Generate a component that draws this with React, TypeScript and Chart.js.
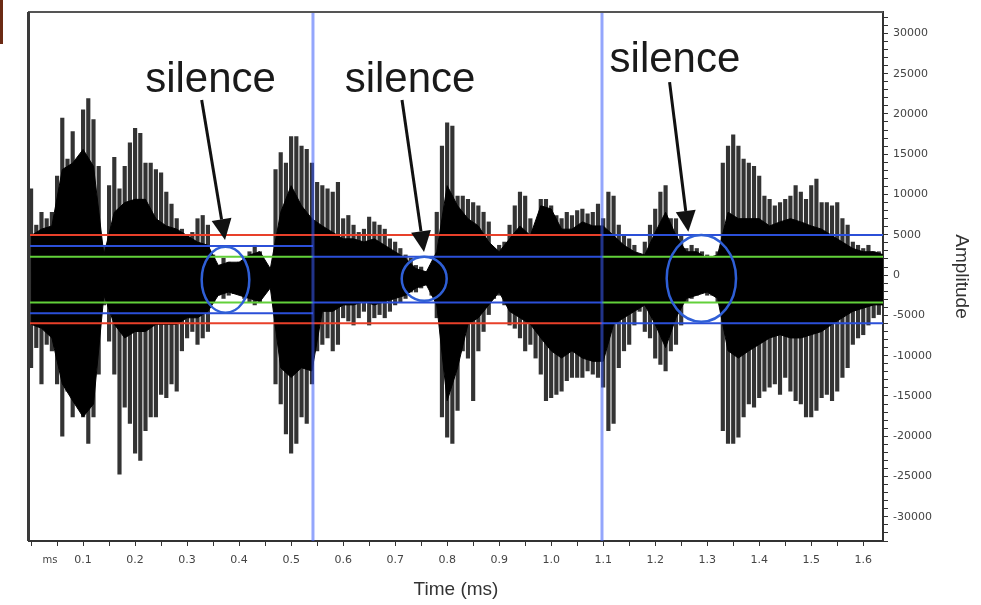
import React, { useEffect, useRef } from 'react';
import { Chart, registerables } from 'chart.js';

Chart.register(...registerables);

// ---------------- data ----------------
// Spike envelope, one value every 0.01 ms from 0.00 to 1.63 ms
const spikeStepMs = 0.01;
const spikeTop = [
  10700, 6200, 7800, 7000, 7800, 12300, 19500, 14400, 17800, 13900,
  20500, 21900, 19300, 13500, 3700, 11100, 14600, 10700, 13500, 16400,
  18200, 17600, 13900, 13900, 13100, 12700, 10300, 8800, 7000, 5700,
  4900, 5300, 7000, 7400, 6200, 2500, 1200, 2100, 1600, 1000,
  1600, 1200, 2900, 3700, 2900, 1200, 800, 13100, 15200, 13900,
  17200, 17200, 16000, 15600, 13900, 11500, 11100, 10700, 10300, 11500,
  7000, 7400, 6200, 5300, 5700, 7200, 6600, 6200, 5700, 4500,
  4100, 3300, 2500, 2100, 1200, 1000, 400, 1200, 7800, 16000,
  18900, 18500, 9800, 9800, 9400, 9000, 8600, 7800, 6600, 3300,
  3700, 4100, 6200, 8600, 10300, 9800, 7000, 5300, 9400, 9400,
  8600, 7400, 7000, 7800, 7400, 8000, 8200, 7600, 7800, 8800,
  7000, 10300, 9800, 6200, 4900, 4500, 3700, 2500, 4100, 6200,
  8200, 10300, 11100, 7000, 7000, 4900, 3300, 3700, 3300, 2900,
  2500, 2100, 2900, 13900, 16000, 17400, 16000, 14400, 13900, 13500,
  12300, 9800, 9400, 8600, 9000, 9400, 9800, 11100, 10300, 9400,
  11100, 11900, 9000, 9000, 8600, 9000, 7000, 6200, 4100, 3700,
  3300, 3700, 2900, 2900,
];
const spikeBottom = [
  -11500, -9000, -13500, -8600, -9400, -13500, -20000, -14400, -17600, -15600,
  -17600, -20900, -17600, -12300, -3700, -8200, -12300, -24700, -16400, -18400,
  -22100, -23000, -19300, -17600, -17600, -14800, -15200, -13500, -14400, -9400,
  -7800, -7000, -8600, -7800, -7000, -3300, -2500, -2900, -2500, -2300,
  -2100, -2900, -3300, -3700, -3300, -1600, -1400, -13500, -16000, -19700,
  -22100, -20900, -17600, -18400, -13500, -9400, -8600, -7800, -9400, -8600,
  -5300, -5700, -6200, -5300, -4500, -6200, -5300, -4900, -5300, -4500,
  -3700, -3300, -2900, -2100, -2100, -1600, -1200, -2500, -5300, -17600,
  -20100, -20900, -16800, -9400, -10300, -15600, -9400, -7000, -4900, -2900,
  -2500, -3700, -6200, -6600, -7800, -9400, -8600, -10300, -12300, -15600,
  -15200, -14800, -14400, -13100, -12700, -12700, -12700, -11900, -12300, -12700,
  -13900, -19300, -18400, -11500, -9400, -8600, -6200, -4500, -7000, -7800,
  -10300, -11100, -11900, -9400, -8600, -6200, -3300, -2900, -2500, -2100,
  -2500, -2500, -3300, -19300, -20900, -20900, -20100, -17600, -16000, -16400,
  -15200, -14400, -13900, -13500, -14800, -12700, -14400, -15600, -16000, -17600,
  -17600, -16800, -15200, -14800, -15600, -14400, -12700, -11500, -8600, -7800,
  -7400, -6200, -5300, -4900,
];

// Dense (solid black) core envelope, one value every 0.02 ms from 0.00 to 1.64 ms
const coreStepMs = 0.02;
const coreTop = [
  4900, 5700, 6100, 13100, 13900, 15600, 13500, 2500, 7800, 9000,
  9400, 9400, 7000, 6100, 5700, 4900, 4100, 3700, 1200, 1600,
  1600, 2500, 2900, 800, 7800, 11100, 8600, 7000, 6100, 5300,
  4500, 4500, 4100, 4500, 3700, 2900, 2100, 800, 400, 2900,
  11100, 8600, 7000, 6100, 4100, 2900, 4500, 6100, 4900, 8600,
  8200, 5700, 5700, 6600, 6100, 6100, 4900, 3700, 2900, 2500,
  5300, 7800, 4900, 2900, 2900, 2100, 2500, 7800, 7000, 7000,
  7000, 6100, 6600, 7000, 6600, 6100, 5700, 4900, 4100, 3300,
  2900, 2900, 2500,
];
const coreBottom = [
  -6100, -6600, -7800, -13500, -15600, -17600, -16000, -2500, -6100, -7800,
  -7000, -7000, -6100, -6100, -6100, -5300, -5300, -4500, -2500, -2100,
  -2500, -2900, -3300, -1600, -11500, -12700, -11500, -11900, -4500, -4500,
  -3700, -3700, -3300, -3700, -3300, -2900, -2500, -1600, -1200, -3700,
  -15600, -11500, -6100, -5300, -3700, -2100, -4500, -5300, -6100, -7800,
  -9400, -10300, -9400, -10300, -10700, -10700, -6100, -5300, -4500, -3700,
  -6100, -9000, -5300, -2900, -2500, -2100, -2900, -9400, -10300, -9400,
  -8600, -7800, -7400, -7800, -7800, -7400, -7000, -6100, -5300, -4500,
  -4100, -3700, -3700,
];

// Axes
const timeMin = -0.004;
const timeMax = 1.638;
const amplitudeMin = -33000;
const amplitudeMax = 32650;
const xTickStep = 0.05; // tick marks
const xTickCount = 33; // 0 .. 1.6
const xTickLabels = ['0.1', '0.2', '0.3', '0.4', '0.5', '0.6', '0.7', '0.8', '0.9', '1.0', '1.1', '1.2', '1.3', '1.4', '1.5', '1.6'];
const yMinorStep = 1000;
const yTickLabels = ['30000', '25000', '20000', '15000', '10000', '5000', '0', '-5000', '-10000', '-15000', '-20000', '-25000', '-30000'];
const xAxisTitle = 'Time (ms)';
const yAxisTitle = 'Amplitude';
const xUnitLabel = 'ms';
const xUnitLabelAt = 0.0365;

// Segment boundaries (vertical markers) and threshold levels
const segmentEdges = [-0.004, 0.542, 1.0977, 1.638];
const redLevels = [4960, -5990]; // segments 1 and 2
const blueLevelsSeg1 = [3600, -4750];
const blueLevelsSeg2 = [2270, -3390];
const blueLevelsSeg3 = [4960, -5990];
const greenLevels = [2270, -3390]; // segments 1 and 3

// "silence" annotations
const silenceText = 'silence';
const silenceTextX = [0.345, 0.7286, 1.238];
const silenceTextY = [22710, 22710, 25190];
const arrowFromX = [0.328, 0.7132, 1.2277];
const arrowFromY = [21720, 21720, 23950];
const arrowToX = [0.3729, 0.7555, 1.2637];
const arrowToY = [4340, 2850, 5370];
const ellipseX = [[0.328, 0.4196], [0.7126, 0.7991], [1.2221, 1.3554]];
const ellipseY = [[3510, -4680], [2270, -3190], [4960, -5800]];

// ---------------- styles ----------------
const RED = '#e8402a';
const BLUE = '#2b4fd8';
const GREEN = '#62d03a';
const MARKER = 'rgba(60, 92, 250, 0.55)';
const ELLIPSE = '#2f5fd6';
const TICK_FONT = { family: '"DejaVu Sans", sans-serif', size: 11 };
const TITLE_FONT = { family: '"Liberation Sans", Arial, sans-serif', size: 19 };

const xTickValues = Array.from({ length: xTickCount }, (_, i) => Math.round(i * xTickStep * 100) / 100);
const yTickValues: number[] = [];
for (let v = Math.ceil(amplitudeMin / yMinorStep) * yMinorStep; v <= amplitudeMax; v += yMinorStep) yTickValues.push(v);

const hLine = (from: number, to: number, y: number, color: string, order: number) => ({
  type: 'line' as const,
  data: [{ x: from, y }, { x: to, y }],
  borderColor: color,
  borderWidth: 2,
  pointRadius: 0,
  fill: false,
  order,
});

const annotationPlugin = {
  id: 'silenceAnnotations',
  afterDatasetsDraw(chart: any) {
    const { ctx } = chart;
    const xs = chart.scales.x;
    const ys = chart.scales.y;
    ctx.save();
    ctx.strokeStyle = ELLIPSE;
    ctx.lineWidth = 2.5;
    ellipseX.forEach((ex, i) => {
      const l = xs.getPixelForValue(ex[0]);
      const r = xs.getPixelForValue(ex[1]);
      const t = ys.getPixelForValue(ellipseY[i][0]);
      const b = ys.getPixelForValue(ellipseY[i][1]);
      ctx.beginPath();
      ctx.ellipse((l + r) / 2, (t + b) / 2, (r - l) / 2, (b - t) / 2, 0, 0, Math.PI * 2);
      ctx.stroke();
    });
    ctx.strokeStyle = '#111';
    ctx.fillStyle = '#111';
    arrowFromX.forEach((fx, i) => {
      const x0 = xs.getPixelForValue(fx);
      const y0 = ys.getPixelForValue(arrowFromY[i]);
      const x1 = xs.getPixelForValue(arrowToX[i]);
      const y1 = ys.getPixelForValue(arrowToY[i]);
      const ang = Math.atan2(y1 - y0, x1 - x0);
      const headLen = 21;
      const headHalf = 10;
      const bx = x1 - Math.cos(ang) * headLen;
      const by = y1 - Math.sin(ang) * headLen;
      ctx.lineWidth = 3;
      ctx.beginPath();
      ctx.moveTo(x0, y0);
      ctx.lineTo(bx, by);
      ctx.stroke();
      ctx.beginPath();
      ctx.moveTo(x1, y1);
      ctx.lineTo(bx + Math.sin(ang) * headHalf, by - Math.cos(ang) * headHalf);
      ctx.lineTo(bx - Math.sin(ang) * headHalf, by + Math.cos(ang) * headHalf);
      ctx.closePath();
      ctx.fill();
    });
    ctx.font = '42px "Liberation Sans", Arial, sans-serif';
    ctx.textAlign = 'center';
    ctx.textBaseline = 'alphabetic';
    ctx.fillStyle = '#1a1a1a';
    silenceTextX.forEach((tx, i) => {
      ctx.fillText(silenceText, xs.getPixelForValue(tx), ys.getPixelForValue(silenceTextY[i]));
    });
    ctx.restore();
  },
  afterDraw(chart: any) {
    const { ctx, chartArea } = chart;
    const xs = chart.scales.x;
    ctx.save();
    ctx.strokeStyle = '#555';
    ctx.lineWidth = 2;
    ctx.beginPath();
    ctx.moveTo(chartArea.left - 1, chartArea.top);
    ctx.lineTo(chartArea.right, chartArea.top);
    ctx.stroke();
    ctx.strokeStyle = '#3a3a3a';
    ctx.lineWidth = 3;
    ctx.beginPath();
    ctx.moveTo(chartArea.left - 0.5, chartArea.top);
    ctx.lineTo(chartArea.left - 0.5, chartArea.bottom);
    ctx.stroke();
    ctx.font = '10px "DejaVu Sans", sans-serif';
    ctx.fillStyle = '#444';
    ctx.textAlign = 'center';
    ctx.textBaseline = 'middle';
    ctx.fillText(xUnitLabel, xs.getPixelForValue(xUnitLabelAt), chartArea.bottom + 19.5);
    ctx.fillStyle = '#6b2a14';
    ctx.fillRect(0, 0, 3, 44);
    ctx.restore();
  },
};

export default function App() {
  const canvasRef = useRef<HTMLCanvasElement | null>(null);

  useEffect(() => {
    const canvas = canvasRef.current;
    if (!canvas) return;

    const spikes = spikeTop.map((t, i) => ({ x: i * spikeStepMs, y: [spikeBottom[i], t] }));
    const coreUp = coreTop.map((v, i) => ({ x: i * coreStepMs, y: v }));
    const coreDown = coreBottom.map((v, i) => ({ x: i * coreStepMs, y: v }));

    const datasets: any[] = [
      {
        type: 'bar',
        data: spikes,
        backgroundColor: '#333333',
        barThickness: 3.5,
        borderWidth: 0,
        order: 6,
      },
      {
        type: 'line',
        data: coreUp,
        borderColor: '#000',
        borderWidth: 1,
        pointRadius: 0,
        fill: false,
        order: 5,
      },
      {
        type: 'line',
        data: coreDown,
        borderColor: '#000',
        borderWidth: 1,
        backgroundColor: '#000',
        pointRadius: 0,
        fill: '-1',
        order: 5,
      },
      hLine(segmentEdges[0], segmentEdges[2], redLevels[0], RED, 3),
      hLine(segmentEdges[0], segmentEdges[2], redLevels[1], RED, 3),
      hLine(segmentEdges[0], segmentEdges[1], greenLevels[0], GREEN, 3),
      hLine(segmentEdges[0], segmentEdges[1], greenLevels[1], GREEN, 3),
      hLine(segmentEdges[2], segmentEdges[3], greenLevels[0], GREEN, 3),
      hLine(segmentEdges[2], segmentEdges[3], greenLevels[1], GREEN, 3),
      hLine(segmentEdges[0], segmentEdges[1], blueLevelsSeg1[0], BLUE, 2),
      hLine(segmentEdges[0], segmentEdges[1], blueLevelsSeg1[1], BLUE, 2),
      hLine(segmentEdges[1], segmentEdges[2], blueLevelsSeg2[0], BLUE, 2),
      hLine(segmentEdges[1], segmentEdges[2], blueLevelsSeg2[1], BLUE, 2),
      hLine(segmentEdges[2], segmentEdges[3], blueLevelsSeg3[0], BLUE, 2),
      hLine(segmentEdges[2], segmentEdges[3], blueLevelsSeg3[1], BLUE, 2),
      ...[segmentEdges[1], segmentEdges[2]].map((e) => ({
        type: 'line',
        data: [{ x: e, y: amplitudeMin }, { x: e, y: amplitudeMax }],
        borderColor: MARKER,
        borderWidth: 3,
        pointRadius: 0,
        fill: false,
        order: 1,
      })),
    ];

    const chart = new Chart(canvas, {
      type: 'bar',
      data: { datasets },
      options: {
        animation: false,
        responsive: false,
        devicePixelRatio: 1,
        events: [],
        layout: { padding: { left: 29, top: 12, right: 0, bottom: 0 } },
        plugins: {
          legend: { display: false },
          tooltip: { enabled: false },
        },
        scales: {
          x: {
            type: 'linear',
            min: timeMin,
            max: timeMax,
            offset: false,
            afterBuildTicks: (s: any) => {
              s.ticks = xTickValues.map((v) => ({ value: v }));
            },
            afterFit: (s: any) => { s.height = 64; },
            grid: {
              offset: false,
              drawOnChartArea: false,
              drawTicks: true,
              tickLength: 5,
              tickColor: '#333',
            },
            border: { display: true, color: '#333', width: 2 },
            ticks: {
              autoSkip: false,
              maxRotation: 0,
              minRotation: 0,
              padding: 8,
              color: '#444',
              font: TICK_FONT,
              callback: (v: any) => {
                const n = Number(v);
                const idx = Math.round(n * 10) - 1;
                if (Math.abs(n * 10 - Math.round(n * 10)) < 1e-6 && idx >= 0 && idx < xTickLabels.length) {
                  return xTickLabels[idx];
                }
                return '';
              },
            },
            title: {
              display: true,
              text: xAxisTitle,
              color: '#333',
              font: TITLE_FONT,
              padding: { top: 0, bottom: 4 },
            },
          },
          y: {
            type: 'linear',
            position: 'right',
            min: amplitudeMin,
            max: amplitudeMax,
            afterBuildTicks: (s: any) => {
              s.ticks = yTickValues.map((v) => ({ value: v }));
            },
            afterFit: (s: any) => { s.width = 98; },
            grid: {
              drawOnChartArea: false,
              drawTicks: true,
              tickLength: 5,
              tickColor: '#333',
            },
            border: { display: true, color: '#333', width: 2 },
            ticks: {
              autoSkip: false,
              padding: 5,
              color: '#444',
              font: TICK_FONT,
              callback: (v: any) => {
                const label = String(Math.round(Number(v)));
                return yTickLabels.includes(label) ? label : '';
              },
            },
            title: {
              display: true,
              text: yAxisTitle,
              color: '#333',
              font: TITLE_FONT,
              padding: { top: 8, bottom: 0 },
            },
          },
        },
      } as any,
      plugins: [annotationPlugin],
    });

    return () => chart.destroy();
  }, []);

  return (
    <div style={{ position: 'fixed', left: 0, top: 0, width: 981, height: 605, background: '#fff' }}>
      <canvas ref={canvasRef} width={981} height={605} />
    </div>
  );
}
